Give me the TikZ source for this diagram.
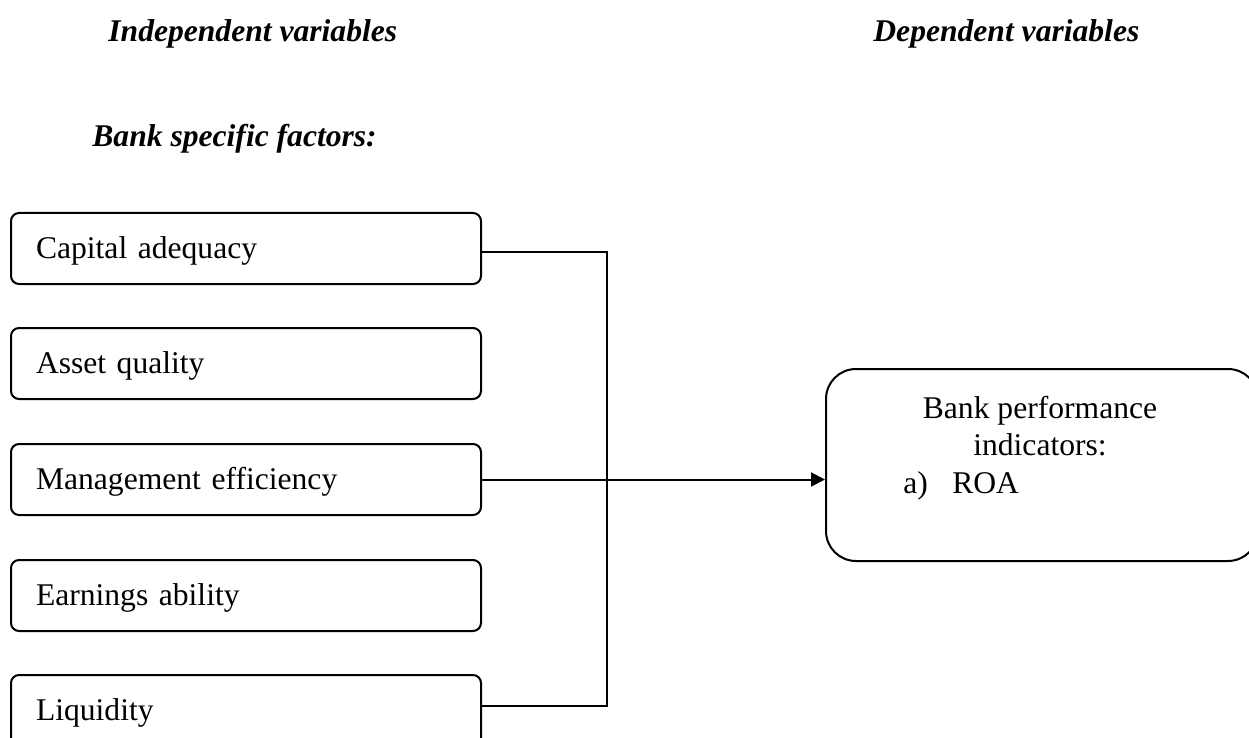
\documentclass[tikz,border=0pt]{standalone}
\usepackage{fontspec}
\setmainfont{Liberation Serif}
\usetikzlibrary{arrows.meta}
\begin{document}
\begin{tikzpicture}[x=0.5pt,y=-0.5pt,
  every node/.style={font=\fontsize{15.8pt}{18.5pt}\selectfont},
  head/.style={font=\fontsize{15.8pt}{18.5pt}\selectfont\bfseries\itshape, anchor=base west, inner sep=0pt},
  factor/.style={draw, line width=1pt, rounded corners=4pt, align=left,
    text width=210pt, inner xsep=12.5pt, inner ysep=0pt, minimum height=35.5pt,
    text height=13pt, text depth=3.5pt},
  result/.style={draw, line width=1pt, rounded corners=15pt, minimum width=216pt, minimum height=96pt, inner sep=0pt},
  conn/.style={line width=0.8pt},
  arrowline/.style={line width=1pt, -{Triangle[length=7pt,width=7pt]}},
  txt/.style={inner sep=0pt, anchor=base}]
\useasboundingbox (0,0) rectangle (1249,738);
\clip (0,0) rectangle (1249,738);

\node[head] (hind) at (108,42) {Independent variables};
\node[head] (hdep) at (873,42) {Dependent variables};
\node[head] (hbank) at (92,147) {Bank specific factors:};

\node[factor] (b1) at (246,248.5) {Capital adequacy};
\node[factor] (b2) at (246,363.5) {Asset quality};
\node[factor] (b3) at (246,479.5) {Management efficiency};
\node[factor] (b4) at (246,595.5) {Earnings ability};
\node[factor] (b5) at (246,710.5) {Liquidity};

\node[result] (perf) at (1042,465) {};
\node[txt] (t1) at (1040,418) {Bank performance};
\node[txt] (t2) at (1040,455) {indicators:};
\node[txt, anchor=base west] (t3) at (903,493) {a)\hspace{12.2pt}ROA};

\coordinate (bus) at (607,0);
\draw[conn] ([yshift=-1.75pt]b1.east) -- ([yshift=-1.75pt]b1.east -| bus)
  -- ([yshift=2.25pt]b5.east -| bus) -- ([yshift=2.25pt]b5.east);
\draw[arrowline] (b3.east) -- (b3.east -| perf.west);
\end{tikzpicture}
\end{document}
